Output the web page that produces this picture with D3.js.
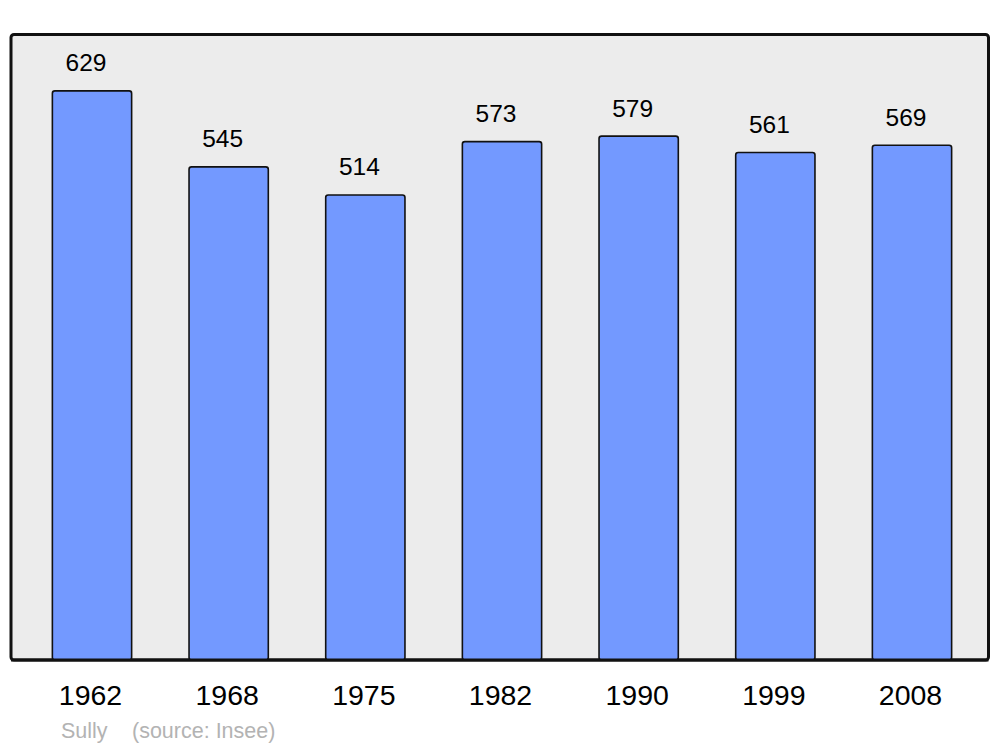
<!DOCTYPE html>
<html><head><meta charset="utf-8">
<script src="https://cdn.jsdelivr.net/npm/d3@7"></script>
<style>body{margin:0;background:#fff}svg{display:block}</style>
</head><body>
<script>
const years = ["1962","1968","1975","1982","1990","1999","2008"];
const population = [629,545,514,573,579,561,569];
const footerPlace = "Sully";
const footerSource = "(source: Insee)";

const W = 1000, H = 747;
const svg = d3.select("body").append("svg").attr("width", W).attr("height", H);
const font = "'Liberation Sans', Arial, sans-serif";

// frame
svg.append("rect").attr("x", 11).attr("y", 34.5).attr("width", 977.5).attr("height", 625.5)
  .attr("rx", 3).attr("fill", "#ececec").attr("stroke", "#111").attr("stroke-width", 3);

const x = d3.scaleBand().domain(years).range([23.67, 980.33]).paddingInner(0.42).paddingOuter(0.21);
const y = d3.scaleLinear().domain([0, d3.max(population) * 1.1]).range([660, 34]);

const g = svg.append("g");
g.selectAll("rect.bar").data(years).join("rect").attr("class", "bar")
  .attr("x", d => x(d)).attr("width", x.bandwidth())
  .attr("y", (d, i) => y(population[i])).attr("height", (d, i) => y(0) - y(population[i]))
  .attr("rx", 2.5).attr("fill", "#7399ff").attr("stroke", "#111").attr("stroke-width", 1.6);

// redraw bottom frame line over bars
svg.append("line").attr("x1", 11).attr("x2", 988.5).attr("y1", 660).attr("y2", 660)
  .attr("stroke", "#111").attr("stroke-width", 3);

g.selectAll("text.val").data(years).join("text").attr("class", "val")
  .attr("x", d => x(d) + x.bandwidth() / 2 - 6)
  .attr("y", (d, i) => y(population[i]) - 19.5)
  .attr("text-anchor", "middle").attr("font-family", font).attr("font-size", 24.5)
  .attr("fill", "#000").text((d, i) => population[i]);

g.selectAll("text.year").data(years).join("text").attr("class", "year")
  .attr("x", d => x(d) + x.bandwidth() / 2 - 1.5)
  .attr("y", 705)
  .attr("text-anchor", "middle").attr("font-family", font).attr("font-size", 28.5)
  .attr("fill", "#000").text(d => d);

svg.append("text").attr("x", 61).attr("y", 738).attr("font-family", font).attr("font-size", 21.5)
  .attr("fill", "#b3b3b3").text(footerPlace);
svg.append("text").attr("x", 132).attr("y", 738).attr("font-family", font).attr("font-size", 21.5)
  .attr("fill", "#b3b3b3").text(footerSource);
</script>
</body></html>
